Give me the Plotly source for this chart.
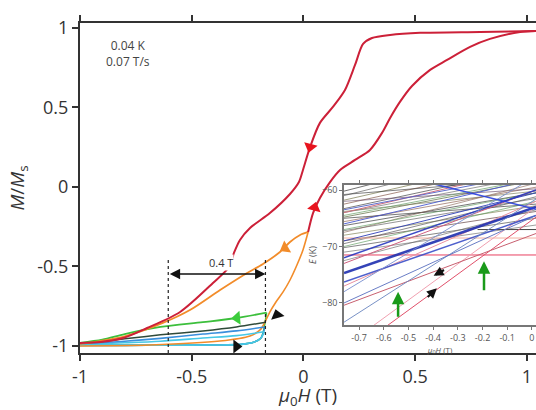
import plotly.graph_objects as go

# ---------------- main panel data (M/Ms vs mu0H) ----------------
red_down_H = [1.041, 0.791, 0.522, 0.388, 0.307, 0.267, 0.231, 0.186, 0.132, 0.074, 0.030, -0.002, -0.020, -0.060,
              -0.150, -0.239, -0.284, -0.311, -0.333, -0.405, -0.552, -0.700, -0.807, -0.910, -1.0]
red_down_M = [0.981, 0.975, 0.969, 0.956, 0.937, 0.899, 0.767, 0.610, 0.503, 0.403, 0.252, 0.107, 0.031, -0.044,
              -0.164, -0.258, -0.333, -0.415, -0.503, -0.604, -0.786, -0.887, -0.950, -0.975, -0.981]
red_up_H = [0.021, 0.043, 0.074, 0.119, 0.164, 0.231, 0.298, 0.352, 0.388, 0.432, 0.486, 0.567, 0.643, 0.746, 0.835, 0.970, 1.041]
red_up_M = [-0.283, -0.164, -0.069, 0.031, 0.107, 0.170, 0.233, 0.340, 0.434, 0.535, 0.635, 0.736, 0.799, 0.881, 0.931, 0.975, 0.981]

orange_up_H = [-1.0, -0.687, -0.374, -0.239, -0.194, -0.172, -0.150, -0.123, -0.091, -0.060, -0.029, -0.002, 0.021]
orange_up_M = [-1.0, -0.994, -0.969, -0.937, -0.899, -0.849, -0.786, -0.723, -0.660, -0.585, -0.491, -0.396, -0.283]
orange_down_H = [0.021, -0.015, -0.060, -0.105, -0.181, -0.252, -0.373, -0.508, -0.629, -0.808, -0.910, -1.0]
orange_down_M = [-0.283, -0.302, -0.346, -0.409, -0.484, -0.541, -0.648, -0.774, -0.855, -0.943, -0.969, -0.987]

bottom_H = [-1.0, -0.8, -0.6, -0.4, -0.28, -0.22, -0.19]
bottom_M = [-0.996, -0.996, -0.995, -0.994, -0.99, -0.975, -0.95]

green_down_H = [-0.165, -0.297, -0.45, -0.64, -0.8, -0.9, -1.0]
green_down_M = [-0.79, -0.824, -0.85, -0.88, -0.925, -0.96, -0.98]
dark_down_H = [-0.168, -0.3, -0.45, -0.64, -0.8, -0.9, -1.0]
dark_down_M = [-0.85, -0.88, -0.905, -0.93, -0.955, -0.972, -0.984]
blue_down_H = [-0.172, -0.3, -0.45, -0.64, -0.8, -1.0]
blue_down_M = [-0.88, -0.905, -0.925, -0.952, -0.97, -0.986]
cyan_down_H = [-0.175, -0.3, -0.45, -0.64, -0.8, -1.0]
cyan_down_M = [-0.91, -0.935, -0.95, -0.97, -0.98, -0.99]

# sweep-direction arrowheads
arrow_H = [0.030, 0.050, -0.082, -0.297, -0.118, -0.300]
arrow_M = [0.252, -0.130, -0.384, -0.824, -0.805, -1.003]
arrow_symbol = ["triangle-down", "triangle-up", "triangle-left", "triangle-left", "triangle-up", "triangle-right"]
arrow_angle = [15, 15, -30, -5, -15, 0]
arrow_color = ["#e8141e", "#e8141e", "#f28c2a", "#3ccc3c", "#111111", "#111111"]

dotted_H = [-0.605, -0.17]
dotted_M = [-1.044, -0.45]
span_M = -0.547

x_ticks = [-1, -0.5, 0, 0.5, 1]
x_ticktext = ["-1", "-0.5", "0", "0.5", "1"]
y_ticks = [-1, -0.5, 0, 0.5, 1]
y_ticktext = ["-1", "-0.5", "0", "0.5", "1"]

# ---------------- inset data (Zeeman levels E vs mu0H) ----------------
inset_H_ends = [-0.761, 0.0166]
dark_E_left = [-60.2, -61.0, -61.8, -62.5, -63.3, -64.0, -64.8, -65.6, -66.3, -67.2, -68.0, -69.0, -70.2,
               -71.0, -60.8, -62.0, -63.8, -65.0, -67.5, -69.5, -72.5]
dark_E_right = [-51.5, -52.5, -54.0, -55.0, -56.0, -57.5, -58.3, -59.5, -60.5, -61.5, -62.8, -63.8, -65.0,
                -66.2, -58.0, -59.8, -60.2, -62.5, -58.8, -61.2, -63.5]
dark_colors = ["#222222", "#555555", "#6b6b3a", "#7a4a3a", "#333333", "#666666", "#4a5a2a", "#8a5a4a",
               "#2a2a2a", "#5a5a5a", "#7a7a4a", "#553333", "#444444", "#6a6a6a", "#3a3a3a", "#6b4b6b",
               "#777755", "#2f2f2f", "#8a6a5a", "#4d4d4d", "#666666"]
blue_E_left = [-74.7, -76.3, -83.4, -80.0, -66.0, -69.0, -72.0, -63.5, -78.0, -55.0]
blue_E_right = [-63.0, -64.5, -61.6, -64.5, -58.0, -60.5, -60.0, -57.0, -57.5, -63.4]
blue_widths = [2.6, 1.5, 1.0, 1.0, 1.0, 1.0, 1.5, 1.0, 1.0, 1.5]
blue_colors = ["#1f2fb0", "#3b4fc8", "#6a86c0", "#5a70c0", "#4a5ad0", "#3040b8", "#2838c0", "#5060c8",
               "#7a90d0", "#2a40e0"]
red_E_left = [-89.6, -87.8, -80.4, -77.0, -73.0, -64.0]
red_E_right = [-64.8, -63.0, -67.7, -62.0, -60.0, -56.0]
red_colors = ["#e0506a", "#f0a0b0", "#c86070", "#e890a0", "#d06080", "#d07080"]
green_E_left = [-64.5, -67.0, -70.0]
green_E_right = [-58.0, -60.5, -62.0]
level_E = [-67.0, -68.5, -71.5]
level_H_start = [-0.22, -0.761, -0.761]
level_colors = ["#444444", "#f4b0a0", "#e84060"]

green_arrow_H = [-0.542, -0.194]
green_arrow_tail_E = [-82.7, -78.0]
green_arrow_head_E = [-78.0, -72.6]
black_arrow_tail_H = [-0.350, -0.428]
black_arrow_tail_E = [-74.0, -79.2]
black_arrow_head_H = [-0.398, -0.385]
black_arrow_head_E = [-75.2, -77.4]

inset_x_ticks = [-0.7, -0.6, -0.5, -0.4, -0.3, -0.2, -0.1, 0]
inset_x_ticktext = ["-0.7", "-0.6", "-0.5", "-0.4", "-0.3", "-0.2", "-0.1", "0"]
inset_y_ticks = [-60, -70, -80]

FONT = "Open Sans"
fig = go.Figure()


def line(x, y, color, width=1.8, xa="x", ya="y", shape="spline", op=1.0, dash="solid"):
    fig.add_trace(go.Scatter(x=x, y=y, mode="lines", xaxis=xa, yaxis=ya, opacity=op,
                             line=dict(color=color, width=width, shape=shape, smoothing=0.8, dash=dash),
                             hoverinfo="skip", showlegend=False))


# inset traces first
for i in range(len(dark_E_left)):
    line(inset_H_ends, [dark_E_left[i], dark_E_right[i]], dark_colors[i], 0.8, "x2", "y2", "linear", 0.8)
for i in range(len(green_E_left)):
    line(inset_H_ends, [green_E_left[i], green_E_right[i]], "#5a9a5a", 0.8, "x2", "y2", "linear", 0.8)
for i in range(len(level_E)):
    line([level_H_start[i], inset_H_ends[1]], [level_E[i], level_E[i]], level_colors[i], 1.0, "x2", "y2", "linear")
for i in range(len(red_E_left)):
    line(inset_H_ends, [red_E_left[i], red_E_right[i]], red_colors[i], 1.0, "x2", "y2", "linear")
for i in range(len(blue_E_left)):
    line(inset_H_ends, [blue_E_left[i], blue_E_right[i]], blue_colors[i], blue_widths[i], "x2", "y2", "linear", 0.9)

# main curves: upward sweeps (shared bottom drawn last in cyan)
line(bottom_H + [-0.165], bottom_M + [-0.79], "#3cbf3c", 1.5)
line(bottom_H + [-0.172], bottom_M + [-0.88], "#3a8fdc", 1.6)
line(bottom_H + [-0.175], bottom_M + [-0.91], "#46c8e6", 1.6)
line(orange_up_H, orange_up_M, "#f28c2a", 1.6)
# downward sweeps
line(cyan_down_H, cyan_down_M, "#46c8e6", 1.6)
line(blue_down_H, blue_down_M, "#3a8fdc", 1.6)
line(dark_down_H, dark_down_M, "#2f4a3a", 1.5)
line(green_down_H, green_down_M, "#3cbf3c", 1.8)
line(orange_down_H, orange_down_M, "#f28c2a", 1.8)
line(red_down_H, red_down_M, "#cc2038", 2.0)
line(red_up_H, red_up_M, "#cc2038", 2.0)

# dotted guides
for h in dotted_H:
    line([h, h], dotted_M, "#222222", 1.2, shape="linear", dash="dot")

# arrowheads
for i in range(len(arrow_H)):
    fig.add_trace(go.Scatter(x=[arrow_H[i]], y=[arrow_M[i]], mode="markers", hoverinfo="skip", showlegend=False,
                             marker=dict(symbol=arrow_symbol[i], angle=arrow_angle[i], size=12,
                                         color=arrow_color[i], line=dict(width=0))))

ann = []
ann.append(dict(x=dotted_H[1], y=span_M, ax=dotted_H[0], ay=span_M, xref="x", yref="y", axref="x", ayref="y",
                text="", showarrow=True, arrowhead=2, arrowsize=1.3, arrowwidth=1.6, arrowcolor="#111",
                arrowside="end+start", startarrowhead=2, startarrowsize=1.3))
ann.append(dict(x=-0.37, y=-0.475, xref="x", yref="y", text="0.4 T", showarrow=False, bgcolor="white",
                borderpad=0, font=dict(family=FONT, size=11, color="#333")))
ann.append(dict(x=-0.785, y=0.838, xref="x", yref="y", text="0.04 K<br>0.07 T/s", showarrow=False,
                font=dict(family=FONT, size=12, color="#444"), align="center"))
for i in range(len(green_arrow_H)):
    ann.append(dict(x=green_arrow_H[i], y=green_arrow_head_E[i], ax=green_arrow_H[i], ay=green_arrow_tail_E[i],
                    xref="x2", yref="y2", axref="x2", ayref="y2", text="", showarrow=True,
                    arrowhead=2, arrowsize=1.0, arrowwidth=2.5, arrowcolor="#1a9a1a"))
for i in range(len(black_arrow_tail_H)):
    ann.append(dict(x=black_arrow_head_H[i], y=black_arrow_head_E[i], ax=black_arrow_tail_H[i],
                    ay=black_arrow_tail_E[i], xref="x2", yref="y2", axref="x2", ayref="y2", text="",
                    showarrow=True, arrowhead=2, arrowsize=0.9, arrowwidth=2.2, arrowcolor="#111"))

fig.update_layout(
    width=536, height=410, margin=dict(l=80, r=0, t=23, b=57, autoexpand=False),
    paper_bgcolor="white", plot_bgcolor="white", showlegend=False,
    font=dict(family=FONT, color="#222"),
    annotations=ann,
    xaxis=dict(range=[-1, 1.041], tickvals=x_ticks, ticktext=x_ticktext, showgrid=False, zeroline=False,
               showline=True, linecolor="#333", linewidth=2, ticks="outside", ticklen=6, tickwidth=1.5,
               tickcolor="#333", mirror="ticks", tickfont=dict(size=18, color="#333"),
               title=dict(text="<i>μ</i><sub>0</sub><i>H</i> (T)", font=dict(size=19, color="#333"), standoff=8)),
    yaxis=dict(range=[-1.044, 1.031], tickvals=y_ticks, ticktext=y_ticktext, showgrid=False, zeroline=False,
               showline=True, linecolor="#333", linewidth=2, ticks="outside", ticklen=6, tickwidth=1.5,
               tickcolor="#333", tickfont=dict(size=18, color="#333"),
               title=dict(text="<i>M</i>/<i>M</i><sub>s</sub>", font=dict(size=19, color="#333"), standoff=8)),
    xaxis2=dict(domain=[0.579, 1.0], anchor="y2", range=[-0.761, 0.0166], tickvals=inset_x_ticks,
                ticktext=inset_x_ticktext, showgrid=False, zeroline=False, showline=True, linecolor="#777",
                linewidth=1.5, ticks="outside", ticklen=3, tickcolor="#777", mirror="ticks",
                tickfont=dict(size=9, color="#555"),
                title=dict(text="<i>μ</i><sub>0</sub><i>H</i> (T)", font=dict(size=8, color="#555"), standoff=2)),
    yaxis2=dict(domain=[0.0848, 0.509], anchor="x2", range=[-83.9, -59.12], tickvals=inset_y_ticks,
                showgrid=False, zeroline=False, showline=True, linecolor="#777", linewidth=1.5,
                ticks="outside", ticklen=3, tickcolor="#777", tickfont=dict(size=9, color="#555"),
                title=dict(text="<i>E</i> (K)", font=dict(size=9, color="#555"), standoff=4)),
)

fig.write_html("out.html", config={"displayModeBar": False},
               post_script="document.body.style.margin='0';document.body.style.padding='0';")
